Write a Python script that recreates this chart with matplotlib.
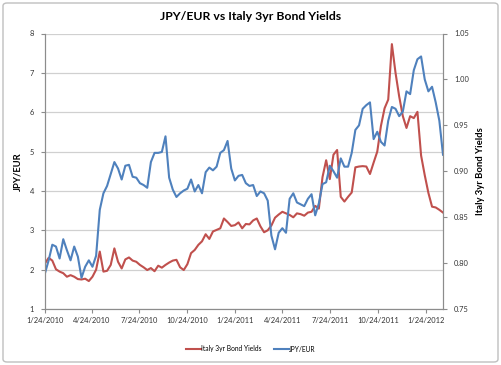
import matplotlib
matplotlib.use("Agg")
import matplotlib.pyplot as plt
from matplotlib.patches import FancyBboxPatch
import datetime as dt

start_date = "2010-01-24"
n_weeks = 110

italy_3yr = [2.16, 2.30, 2.23, 2.01, 1.95, 1.91, 1.82, 1.86, 1.82, 1.76,
             1.75, 1.77, 1.71, 1.82, 2.00, 2.46, 1.95, 1.97, 2.12, 2.54,
             2.20, 2.03, 2.26, 2.31, 2.23, 2.20, 2.12, 2.06, 1.99, 2.04,
             1.96, 2.10, 2.05, 2.12, 2.18, 2.23, 2.25, 2.06, 1.99, 2.14,
             2.42, 2.50, 2.63, 2.72, 2.90, 2.78, 2.97, 3.01, 3.05, 3.30,
             3.21, 3.11, 3.13, 3.20, 3.05, 3.16, 3.15, 3.25, 3.30, 3.10,
             2.95, 3.00, 3.12, 3.32, 3.40, 3.47, 3.43, 3.39, 3.33, 3.43,
             3.41, 3.37, 3.45, 3.47, 3.62, 3.55, 4.35, 4.78, 4.30, 4.92,
             5.04, 3.85, 3.73, 3.85, 3.96, 4.60, 4.62, 4.63, 4.62, 4.43,
             4.72, 5.00, 5.65, 6.10, 6.32, 7.73, 7.00, 6.40, 5.90, 5.60,
             5.90, 5.85, 6.01, 4.90, 4.40, 3.95, 3.60, 3.58, 3.52, 3.45]

jpy_eur = [0.789, 0.803, 0.820, 0.818, 0.805, 0.826, 0.814, 0.803, 0.818, 0.807,
           0.784, 0.796, 0.803, 0.796, 0.808, 0.858, 0.876, 0.884, 0.897, 0.910,
           0.903, 0.891, 0.906, 0.907, 0.894, 0.893, 0.887, 0.885, 0.882, 0.910,
           0.920, 0.920, 0.921, 0.938, 0.893, 0.880, 0.872, 0.876, 0.879, 0.881,
           0.891, 0.878, 0.885, 0.876, 0.899, 0.904, 0.901, 0.905, 0.920, 0.923,
           0.933, 0.903, 0.890, 0.895, 0.896, 0.887, 0.884, 0.885, 0.873, 0.878,
           0.876, 0.868, 0.830, 0.815, 0.833, 0.838, 0.833, 0.870, 0.876, 0.866,
           0.864, 0.862, 0.870, 0.875, 0.852, 0.865, 0.886, 0.888, 0.906, 0.900,
           0.893, 0.914, 0.905, 0.905, 0.920, 0.945, 0.950, 0.968, 0.972, 0.975,
           0.935, 0.943, 0.932, 0.928, 0.955, 0.970, 0.968, 0.960, 0.965, 0.987,
           0.984, 1.010, 1.022, 1.025, 1.000, 0.987, 0.992, 0.975, 0.955, 0.918]

tick_dates = ["2010-01-24", "2010-04-24", "2010-07-24", "2010-10-24",
              "2011-01-24", "2011-04-24", "2011-07-24", "2011-10-24", "2012-01-24"]
tick_labels = ["1/24/2010", "4/24/2010", "7/24/2010", "10/24/2010",
               "1/24/2011", "4/24/2011", "7/24/2011", "10/24/2011", "1/24/2012"]
left_ticks = [1, 2, 3, 4, 5, 6, 7, 8]
right_ticks = [0.75, 0.80, 0.85, 0.90, 0.95, 1.00, 1.05]

d0 = dt.datetime.strptime(start_date, "%Y-%m-%d")
dates = [d0 + dt.timedelta(days=7 * i) for i in range(n_weeks)]
tdates = [dt.datetime.strptime(s, "%Y-%m-%d") for s in tick_dates]

RED = "#C0504D"
BLUE = "#4F81BD"
GRID = "#D0D0D0"
AX = "#8C8C8C"
TXT = "#333333"

plt.rcParams['font.family'] = ['Lato', 'DejaVu Sans']

fig = plt.figure(figsize=(5.02, 3.65), dpi=100)
fig.patch.set_facecolor("white")
border = FancyBboxPatch((3 / 502, 3 / 365), 495 / 502, 359 / 365,
                        boxstyle="round,pad=0,rounding_size=0.008",
                        transform=fig.transFigure, facecolor="none",
                        edgecolor="#BFBFBF", linewidth=1.0)
fig.patches.append(border)

ax = fig.add_axes([45 / 502, 1 - 309 / 365, 398 / 502, 275.5 / 365])
ax2 = ax.twinx()

l1, = ax.plot(dates, italy_3yr, color=RED, lw=1.5, label="Italy 3yr Bond Yields")
l2, = ax2.plot(dates, jpy_eur, color=BLUE, lw=1.5, label="JPY/EUR")

ax.set_xlim(dates[0], dates[-1])
ax.set_ylim(1, 8)
ax2.set_ylim(0.75, 1.05)
ax.set_yticks(left_ticks)
ax.set_yticklabels([str(v) for v in left_ticks])
ax2.set_yticks(right_ticks)
ax2.set_yticklabels([f"{v:.2f}" for v in right_ticks])
ax.set_xticks(tdates)
ax.set_xticklabels(tick_labels)

ax.grid(axis="y", color=GRID, lw=0.9)
ax.set_axisbelow(True)
for a in (ax, ax2):
    a.spines["top"].set_visible(False)
    a.spines["left"].set_color(AX)
    a.spines["right"].set_color(AX)
    a.spines["bottom"].set_color(AX)
    a.tick_params(colors=AX, labelcolor=TXT, labelsize=5.4, length=3, width=0.8)
ax.tick_params(axis="x", pad=2.5)
ax.tick_params(axis="y", pad=5)
ax2.tick_params(axis="y", pad=5)

ax.set_ylabel("JPY/EUR", fontsize=6.8, fontweight="bold", color="black", labelpad=5)
ax2.set_ylabel("Italy 3yr Bond Yields", fontsize=6.8, fontweight="bold",
               color="black", labelpad=5)

fig.text(0.5, 1 - 16.5 / 365, "JPY/EUR vs Italy 3yr Bond Yields", ha="center",
         va="center", fontsize=8.8, fontweight="bold", color="black")

fig.legend(handles=[l1, l2], loc="center", bbox_to_anchor=(251 / 502, 1 - 349 / 365),
           ncol=2, frameon=False, fontsize=4.8, handlelength=2.2, columnspacing=1.8,
           handletextpad=0.1)

fig.savefig("out.png", dpi=100)
